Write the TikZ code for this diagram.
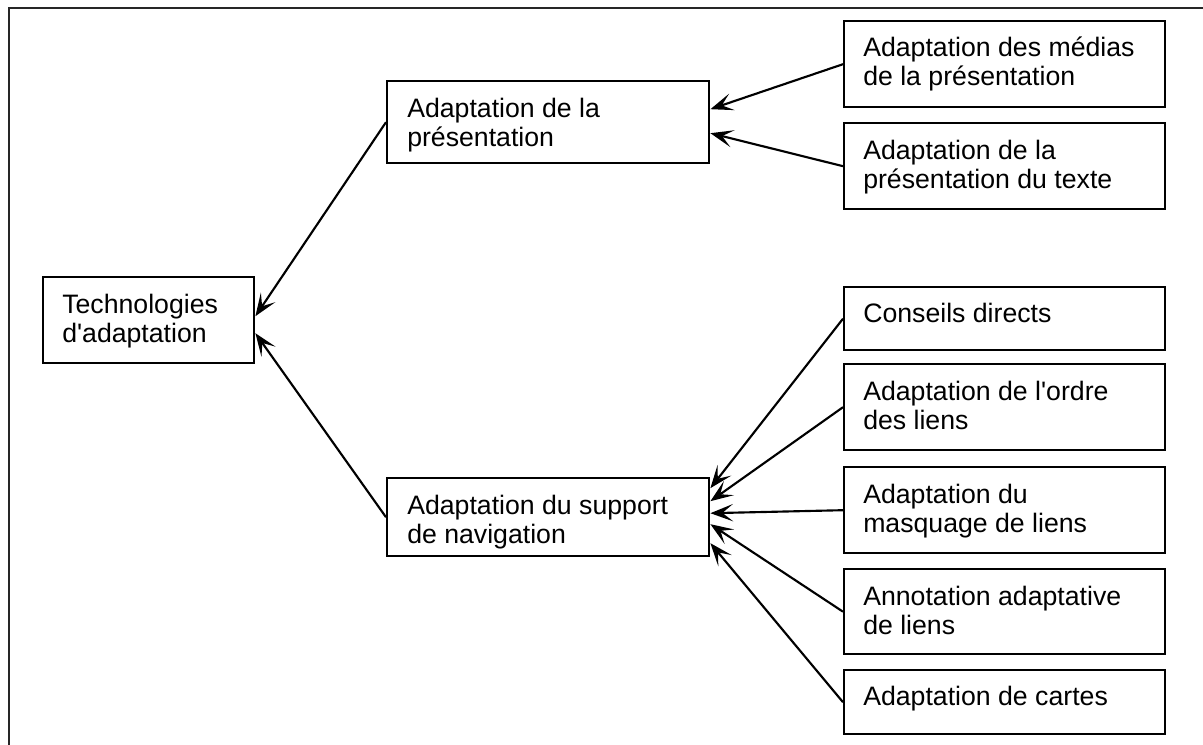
\documentclass[tikz,border=0pt]{standalone}
\usepackage{fontspec}
\setmainfont{Liberation Sans}
\usetikzlibrary{arrows.meta,calc}
\begin{document}
\begin{tikzpicture}[x=0.75pt,y=-0.75pt,
  bx/.style 2 args={draw,line width=1.8pt,anchor=north west,inner sep=0pt,
    minimum width=#1*0.75pt,minimum height=#2*0.75pt},
  lbl/.style={anchor=north west,inner sep=0pt,align=left,font=\fontsize{20}{21.5}\selectfont},
  conn/.style={line width=1.6pt,-{Stealth[length=17pt,width=13pt,inset=8pt]}},
  frameline/.style={line width=1.8pt,draw=black!85}]
\useasboundingbox (0,0) rectangle (1203,745);
% frame
\coordinate (fa) at (9,745);
\coordinate (fb) at (9,8);
\coordinate (fc) at (1203,8);
\draw[frameline] (fa) -- (fb) -- (fc);
% boxes
\node[bx={211}{86}] (tech) at (42,276) {};
\node[bx={322}{82}] (pres) at (386,80) {};
\node[bx={322}{78}] (nav) at (386,477) {};
\node[bx={321}{86}] (medias) at (843,20) {};
\node[bx={321}{86}] (texte) at (843,122) {};
\node[bx={321}{63}] (conseils) at (843,286) {};
\node[bx={321}{86}] (ordre) at (843,363) {};
\node[bx={321}{86}] (masq) at (843,466) {};
\node[bx={321}{85}] (annot) at (843,568) {};
\node[bx={321}{64}] (cartes) at (843,669) {};
% labels
\node[lbl] (ltech) at ($(tech.north west)+(20,18)$) {Technologies\\d\textquotesingle adaptation};
\node[lbl] (lpres) at ($(pres.north west)+(21,18)$) {Adaptation de la\\présentation};
\node[lbl] (lnav) at ($(nav.north west)+(21,18)$) {Adaptation du support\\de navigation};
\node[lbl] (lmedias) at ($(medias.north west)+(20,17)$) {Adaptation des médias\\de la présentation};
\node[lbl] (ltexte) at ($(texte.north west)+(20,18)$) {Adaptation de la\\présentation du texte};
\node[lbl] (lconseils) at ($(conseils.north west)+(20,17)$) {Conseils directs};
\node[lbl] (lordre) at ($(ordre.north west)+(20,18)$) {Adaptation de l\textquotesingle ordre\\des liens};
\node[lbl] (lmasq) at ($(masq.north west)+(20,18)$) {Adaptation du\\masquage de liens};
\node[lbl] (lannot) at ($(annot.north west)+(20,18)$) {Annotation adaptative\\de liens};
\node[lbl] (lcartes) at ($(cartes.north west)+(20,17)$) {Adaptation de cartes};
% connectors
\draw[conn] (pres.west) -- ($(tech.east)+(0,-4)$);
\draw[conn] (nav.west) -- ($(tech.east)+(0,13)$);
\draw[conn] (medias.west) -- ($(pres.east)+(0,-13)$);
\draw[conn] (texte.west) -- ($(pres.east)+(0,11)$);
\draw[conn] (conseils.west) -- ($(nav.east)+(0,-29)$);
\draw[conn] (ordre.west) -- ($(nav.east)+(0,-16)$);
\draw[conn] (masq.west) -- ($(nav.east)+(0,-4)$);
\draw[conn] (annot.west) -- ($(nav.east)+(0,7)$);
\draw[conn] (cartes.west) -- ($(nav.east)+(0,26)$);
\end{tikzpicture}
\end{document}
